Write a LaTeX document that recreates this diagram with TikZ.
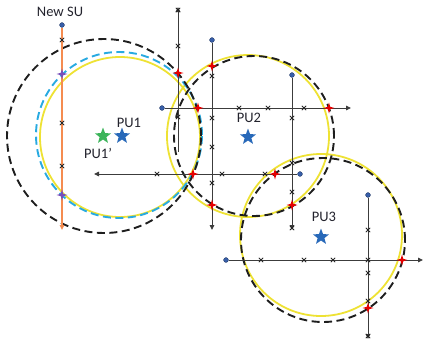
\documentclass[tikz,border=0pt]{standalone}
\usepackage{fontspec}
\setmainfont{Carlito}
\usetikzlibrary{arrows.meta,shapes.geometric}
\definecolor{cyel}{RGB}{238,226,52}
\definecolor{ccyan}{RGB}{40,170,225}
\definecolor{cdash}{RGB}{30,30,30}
\definecolor{cline}{RGB}{60,60,60}
\definecolor{corange}{RGB}{245,140,80}
\definecolor{cdot}{RGB}{55,95,170}
\definecolor{cpu}{RGB}{40,105,185}
\definecolor{cgreen}{RGB}{60,180,90}
\definecolor{cpurple}{RGB}{120,80,185}
\definecolor{ctext}{RGB}{35,35,45}
\tikzset{
  yelcirc/.style={draw=cyel, line width=1.8pt},
  bkdash/.style={draw=cdash, line width=1.9pt, dash pattern=on 8pt off 4.5pt},
  cydash/.style={draw=ccyan, line width=1.9pt, dash pattern=on 8pt off 4.5pt},
  dotnode/.style={circle, fill=cdot, draw=cdot!60!black, line width=0.4pt, inner sep=0pt, minimum size=4.8pt},
  ray/.style={draw=cline, line width=0.9pt, -{Triangle[length=5pt,width=4.5pt]}},
  oray/.style={draw=corange, line width=1.3pt, -{Triangle[length=5pt,width=4.5pt]}},
  pustar/.style={star, star points=5, star point ratio=2.4, inner sep=0pt, minimum size=17pt, draw=none},
  lbl/.style={font=\fontsize{14.5}{16}\selectfont, text=ctext, inner sep=0pt},
  xm/.pic={\draw[line width=0.8pt, black!85] (-2.2,-2.2)--(2.2,2.2) (-2.2,2.2)--(2.2,-2.2);},
  redstar/.pic={\fill[red!90!black] (0,-5.5)--(1.2,-1.2)--(5.5,0)--(1.2,1.2)--(0,5.5)--(-1.2,1.2)--(-5.5,0)--(-1.2,-1.2)--cycle;},
  purstar/.pic={\fill[cpurple] (0,-5.5)--(1.2,-1.2)--(5.5,0)--(1.2,1.2)--(0,5.5)--(-1.2,1.2)--(-5.5,0)--(-1.2,-1.2)--cycle;}
}
\begin{document}
\begin{tikzpicture}[x=1pt,y=-1pt]
\useasboundingbox (0,0) rectangle (423,341);
% circles
\draw[yelcirc] (120,137) circle[radius=80pt];
\draw[yelcirc] (248,136) circle[radius=81pt];
\draw[yelcirc] (321,235) circle[radius=81pt];
\draw[cydash] (119,135) circle[radius=83pt];
\draw[bkdash] (104,136) circle[radius=97pt];
\draw[bkdash] (254,136) circle[radius=80pt];
\draw[bkdash] (323,240) circle[radius=82pt];
% line end points
\node[dotnode] (su) at (62,25) {};
\coordinate (suend) at (62,230);
\coordinate (l1s) at (178,152);
\coordinate (l1e) at (178,7);
\node[dotnode] (l2s) at (212,40) {};
\coordinate (l2e) at (212,230);
\node[dotnode] (l3s) at (292,75) {};
\coordinate (l3e) at (292,230);
\node[dotnode] (l4s) at (162,108) {};
\coordinate (l4e) at (351,108);
\node[dotnode] (l5s) at (300,174) {};
\coordinate (l5e) at (94,174);
\node[dotnode] (l6s) at (226,260) {};
\coordinate (l6e) at (423,260);
\node[dotnode] (l7s) at (368,195) {};
\coordinate (l7e) at (368,339);
% lines
\draw[oray] (su) -- (suend);
\draw[ray] (l1s) -- (l1e);
\draw[ray] (l2s) -- (l2e);
\draw[ray] (l3s) -- (l3e);
\draw[ray] (l4s) -- (l4e);
\draw[ray] (l5s) -- (l5e);
\draw[ray] (l6s) -- (l6e);
\draw[ray] (l7s) -- (l7e);
% x markers
\foreach \p in {(62,40),(62,123),(62,166),
  (178,10),(178,46),(178,117),
  (212,76),(212,118),(212,147),(212,183),
  (292,118),(292,163),(292,192),(292,228),
  (239,108),(268,108),(304,108),
  (157,174),(222,174),(265,174),
  (261,260),(304,260),(333,260),(368,260),
  (368,230),(368,273),(368,301),(368,336)}
  \pic at \p {xm};
% intersection stars
\foreach \p in {(178,73),(198,108),(329,108),(212,66),(193,174),(275,174),(212,205),(292,205),(402,260),(368,308)}
  \pic at \p {redstar};
\pic at (62,74) {purstar};
\pic at (62,195) {purstar};
% PU stars
\node[pustar, fill=cgreen] (pu1p) at (103,136) {};
\node[pustar, fill=cpu] (pu1) at (122,136) {};
\node[pustar, fill=cpu] (pu2) at (248,137) {};
\node[pustar, fill=cpu] (pu3) at (321,237) {};
% labels
\node[lbl] (lsu) at (60,12) {New SU};
\node[lbl] (lpu1) at (129,123) {PU1};
\node[lbl] (lpu1p) at (98,153) {PU1’};
\node[lbl] (lpu2) at (249,118) {PU2};
\node[lbl] (lpu3) at (324,217) {PU3};
\end{tikzpicture}
\end{document}
